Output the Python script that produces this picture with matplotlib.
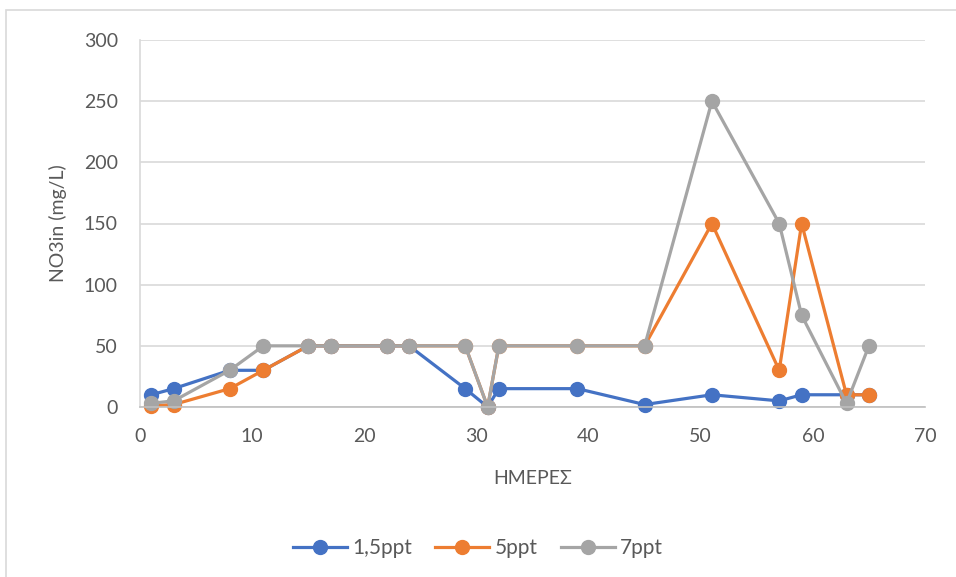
import matplotlib
matplotlib.use("Agg")
import matplotlib.pyplot as plt
from matplotlib.patches import Rectangle

days = [1, 3, 8, 11, 15, 17, 22, 24, 29, 31, 32, 39, 45, 51, 57, 59, 63, 65]
s15 = [10, 15, 30, 30, 50, 50, 50, 50, 15, 0, 15, 15, 2, 10, 5, 10, 10, 10]
s5 = [1, 2, 15, 30, 50, 50, 50, 50, 50, 0, 50, 50, 50, 150, 30, 150, 10, 10]
s7 = [3, 5, 30, 50, 50, 50, 50, 50, 50, 0, 50, 50, 50, 250, 150, 75, 3, 50]
labels = ["1,5ppt", "5ppt", "7ppt"]
colors = ["#4472C4", "#ED7D31", "#A5A5A5"]

plt.rcParams['font.family'] = ['Lato', 'DejaVu Sans']
fig = plt.figure(figsize=(9.56, 5.77), dpi=100)
fig.patches.append(Rectangle((6/956, -0.1), 1.2, 1 - 10/577 + 0.1, transform=fig.transFigure,
                             fill=False, edgecolor="#d9d9d9", linewidth=1.2))
ax = fig.add_axes([140/956, (577-407)/577, (925-140)/956, (407-40)/577])

for y, lab, c in zip([s15, s5, s7], labels, colors):
    ax.plot(days, y, color=c, linewidth=2.3, marker='o', markersize=10, label=lab, clip_on=False)

ax.set_xlim(0, 70)
ax.set_ylim(0, 300)
ax.set_xticks(range(0, 71, 10))
ax.set_yticks(range(0, 301, 50))
ax.grid(axis='y', color="#d9d9d9", linewidth=1.2)
ax.set_axisbelow(True)
for s in ['top', 'right']:
    ax.spines[s].set_visible(False)
ax.spines['left'].set_color("#d9d9d9")
ax.spines['bottom'].set_color("#bfbfbf")
ax.spines['left'].set_linewidth(1.2)
ax.spines['bottom'].set_linewidth(1.2)
ax.tick_params(length=0, labelsize=14, colors="#595959")
ax.tick_params(axis='y', pad=16)
ax.tick_params(axis='x', pad=15)
ax.set_xlabel("ΗΜΕΡΕΣ", fontsize=14, color="#595959", labelpad=18)
ax.set_ylabel("NO3in (mg/L)", fontsize=14, color="#595959", labelpad=12)

fig.legend(loc='center', bbox_to_anchor=(0.5, (577-548)/577), ncol=3, frameon=False,
           fontsize=15, labelcolor="#595959", handlelength=2.6, columnspacing=1.1,
           handletextpad=0.25, borderaxespad=0)

fig.savefig("out.png", dpi=100, facecolor="white")
